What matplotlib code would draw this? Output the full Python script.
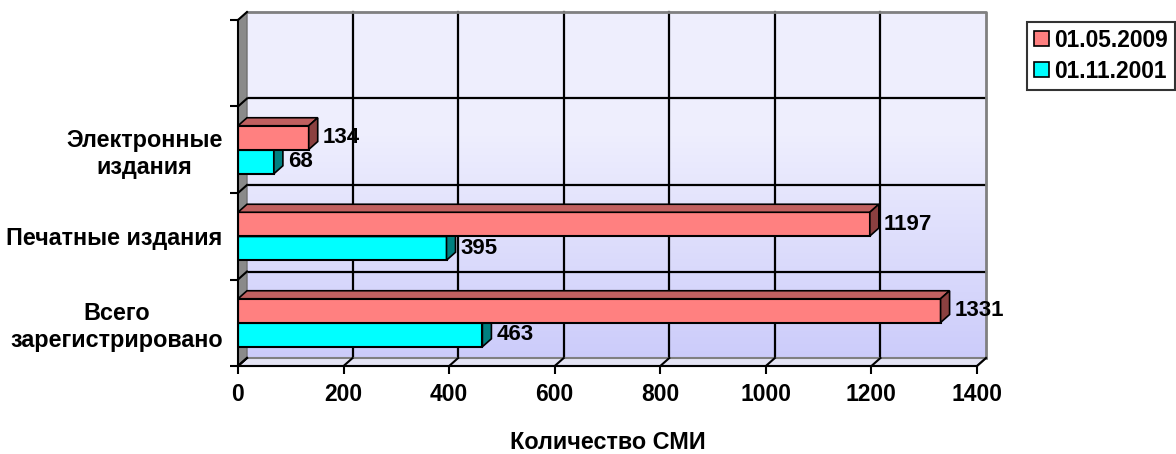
import matplotlib.pyplot as plt
import numpy as np
from matplotlib.patches import Polygon, Patch

categories = ["Всего\nзарегистрировано", "Печатные издания", "Электронные\nиздания"]
series_names = ["01.05.2009", "01.11.2001"]
vals_2009 = [1331, 1197, 134]
vals_2001 = [463, 395, 68]
xticks = [0, 200, 400, 600, 800, 1000, 1200, 1400]

plt.rcParams['font.family'] = ['Liberation Sans', 'DejaVu Sans']
plt.rcParams['font.weight'] = 'bold'

fig = plt.figure(figsize=(11.76, 4.54), dpi=100)
ax = fig.add_axes([238/1176, 88/454, 739/1176, 346/454])
ax.patch.set_visible(False)

# 3d depth offsets (pixels -> data units)
dx = 9 * 1400 / 739
dy = 8 * 4 / 346
y0, y1 = -0.5, 3.5

# back wall with gradient
t = np.linspace(0, 1, 200)
t = np.clip((t - 0.35) / 0.65, 0, 1)
top = np.array([0.935, 0.935, 0.995])
bot = np.array([0.80, 0.80, 0.98])
grad = (top[None, :] * (1 - t[:, None]) + bot[None, :] * t[:, None])[:, None, :]
ax.imshow(grad, extent=[dx, 1400 + dx, y0 + dy, y1 + dy], origin='upper',
          aspect='auto', zorder=0, clip_on=False)

# back wall gridlines
for x in xticks[1:-1]:
    ax.plot([x + dx, x + dx], [y0 + dy, y1 + dy], color='black', lw=1.6, zorder=1, clip_on=False)
for y in [0.5, 1.5, 2.5]:
    ax.plot([dx, 1400 + dx], [y + dy, y + dy], color='black', lw=1.6, zorder=1, clip_on=False)
ax.plot([dx, 1400 + dx, 1400 + dx], [y1 + dy, y1 + dy, y0 + dy], color='#808080', lw=2, zorder=1, clip_on=False)

# left wall and floor
ax.add_patch(Polygon([(0, y0), (0, y1), (dx, y1 + dy), (dx, y0 + dy)], closed=True,
                     fc='#8a8a8a', ec='#707070', lw=1, zorder=2, clip_on=False))
ax.add_patch(Polygon([(0, y0), (1400, y0), (1400 + dx, y0 + dy), (dx, y0 + dy)], closed=True,
                     fc='#e4e4f4', ec='#808080', lw=1.5, zorder=2, clip_on=False))
for x in xticks:
    ax.plot([x, x + dx], [y0, y0 + dy], color='black', lw=1.5, zorder=2, clip_on=False)
for y in [-0.5, 0.5, 1.5, 2.5, 3.5]:
    ax.plot([0, dx], [y, y + dy], color='black', lw=1.5, zorder=2, clip_on=False)

h = 0.275
ypos = np.arange(len(categories))


def bar3d(yc, v, front, side, topc, z):
    ax.barh(yc, v, height=h, color=front, edgecolor='black', lw=1.5, zorder=z)
    ya, yb = yc - h / 2, yc + h / 2
    ax.add_patch(Polygon([(0, yb), (v, yb), (v + dx, yb + dy), (dx, yb + dy)], closed=True,
                         fc=topc, ec='black', lw=1.2, zorder=z, clip_on=False))
    ax.add_patch(Polygon([(v, ya), (v, yb), (v + dx, yb + dy), (v + dx, ya + dy)], closed=True,
                         fc=side, ec='black', lw=1.2, zorder=z, clip_on=False))
    ax.text(v + dx + 10, yc, str(v), ha='left', va='center', fontsize=16,
            fontweight='bold', zorder=10)


for i in range(len(categories)):
    bar3d(ypos[i] - 0.14, vals_2001[i], '#00ffff', '#008080', '#00b0b0', 4 + i * 2)
    bar3d(ypos[i] + 0.14, vals_2009[i], '#ff8080', '#8b4040', '#c06060', 5 + i * 2)

ax.set_xlim(0, 1400)
ax.set_ylim(y0, y1)
ax.set_xticks(xticks)
ax.set_xticklabels([str(x) for x in xticks], fontsize=16.5, fontweight='bold')
ax.set_yticks([-0.5, 0.5, 1.5, 2.5, 3.5])
ax.set_yticklabels([])
ax.set_yticks(ypos, minor=True)
ax.set_yticklabels(categories, minor=True, fontsize=16.8, fontweight='bold',
                   multialignment='center')
ax.tick_params(axis='both', which='major', direction='out', length=6, width=1.5)
ax.tick_params(axis='x', pad=6)
ax.tick_params(axis='y', which='minor', length=0, pad=11)
for s in ['top', 'right']:
    ax.spines[s].set_visible(False)
for s in ['left', 'bottom']:
    ax.spines[s].set_linewidth(1.5)
    ax.spines[s].set_zorder(20)
ax.set_xlabel("Количество СМИ", fontsize=16.8, fontweight='bold', labelpad=18)

handles = [Patch(fc='#ff8080', ec='black', lw=1.2), Patch(fc='#00ffff', ec='black', lw=1.2)]
leg = fig.legend(handles, series_names, loc='upper left',
                 bbox_to_anchor=(1027/1176, 1 - 22/454), fontsize=16.4, frameon=True,
                 fancybox=False, edgecolor='black', handlelength=0.65, handleheight=0.65,
                 handletextpad=0.25, borderpad=0.3, labelspacing=0.35, borderaxespad=0)
leg.get_frame().set_linewidth(1.5)

fig.savefig('out.png', dpi=100)
